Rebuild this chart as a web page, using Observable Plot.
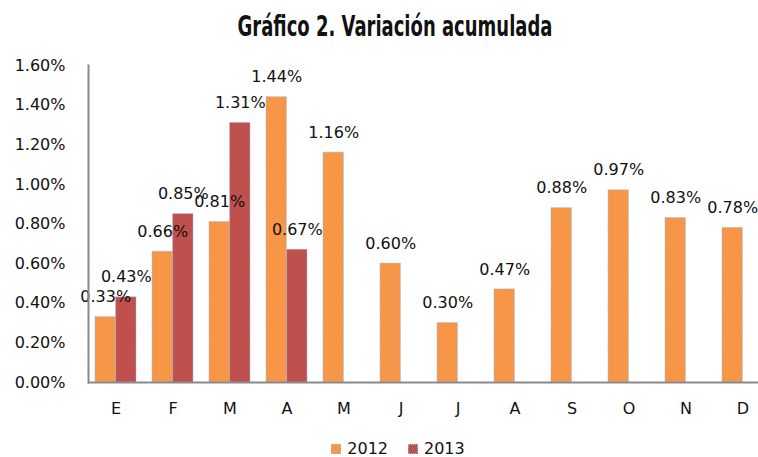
<!DOCTYPE html>
<html><head><meta charset="utf-8">
<script src="https://cdn.jsdelivr.net/npm/d3@7"></script>
<script src="https://cdn.jsdelivr.net/npm/@observablehq/plot@0.6"></script>
<style>
body{margin:0;background:#fff;width:758px;height:457px;overflow:hidden;font-family:"DejaVu Sans",sans-serif;}
#title{height:48px;position:relative;}
#title span{position:absolute;left:395px;top:26px;transform:translate(-50%,-50%) scaleY(1.4);white-space:nowrap;font-family:"Liberation Sans Narrow","DejaVu Sans Condensed",sans-serif;font-weight:bold;font-size:20px;color:#111;}
#chart{height:384px;}
#legend{box-sizing:border-box;height:25px;display:flex;justify-content:center;align-items:center;font-size:16px;color:#111;padding-left:38px;padding-top:8px;}
#legend .sw{width:10px;height:10px;display:inline-block;margin-right:6px;border:1px dotted #9bb7d9;box-sizing:border-box;}
#legend .item{display:flex;align-items:center;margin:0 10px;line-height:17px;}
svg text{font-family:"DejaVu Sans",sans-serif;}
</style></head><body>
<div id="title"><span>Gráfico 2. Variación acumulada</span></div>
<div id="chart"></div>
<div id="legend"></div>
<script>
const months = ["E","F","M","A","M","J","J","A","S","O","N","D"];
const seriesNames = ["2012","2013"];
const values2012 = [0.33,0.66,0.81,1.44,1.16,0.60,0.30,0.47,0.88,0.97,0.83,0.78];
const values2013 = [0.43,0.85,1.31,0.67];
const yTicks = [0,0.2,0.4,0.6,0.8,1.0,1.2,1.4,1.6];
const colors = ["#F79646","#C0504D"];

const d2012 = values2012.map((v,i)=>({i, v, s: seriesNames[0]}));
const d2013 = values2013.map((v,i)=>({i, v, s: seriesNames[1]}));
const half = 20.6;
const fmt = v => v.toFixed(2) + "%";
const barStroke = {stroke:"#9bb7d9", strokeWidth:0.8, strokeDasharray:"1.5,1"};

const chart = Plot.plot({
  width: 758, height: 384,
  marginLeft: 88, marginRight: 0, marginTop: 17, marginBottom: 50,
  x: {type:"band", domain: d3.range(months.length), range:[88,770], paddingInner:0.28, paddingOuter:0.09},
  y: {domain:[0,1.6]},
  marks: [
    Plot.barY(d2012, {x:"i", y:"v", fill: colors[0], insetRight: half, ...barStroke}),
    Plot.barY(d2013, {x:"i", y:"v", fill: colors[1], insetLeft: half, ...barStroke}),
    Plot.text(d2012, {x:"i", y:"v", text: d=>fmt(d.v), dx:-half/2, dy:-20, fontSize:16, fill:"#111"}),
    Plot.text(d2013, {x:"i", y:"v", text: d=>fmt(d.v), dx:half/2, dy:-20, fontSize:16, fill:"#111"}),
    Plot.axisY({ticks: yTicks, tickFormat: fmt, tickSize:0, tickPadding:23, fontSize:16, label:null, color:"#111"}),
    Plot.axisX({tickFormat: i=>months[i], tickSize:0, tickPadding:20, fontSize:16, label:null, color:"#111"}),
    Plot.ruleY([0], {stroke:"#8a8a8a", strokeWidth:2}),
    Plot.frame({anchor:"left", stroke:"#8a8a8a", strokeWidth:2})
  ]
});
document.getElementById("chart").appendChild(chart);

const legend = document.getElementById("legend");
seriesNames.forEach((s,k)=>{
  const it = document.createElement("span"); it.className="item";
  const sw = document.createElement("span"); sw.className="sw"; sw.style.background=colors[k];
  it.appendChild(sw); it.appendChild(document.createTextNode(s));
  legend.appendChild(it);
});
</script>
</body></html>
